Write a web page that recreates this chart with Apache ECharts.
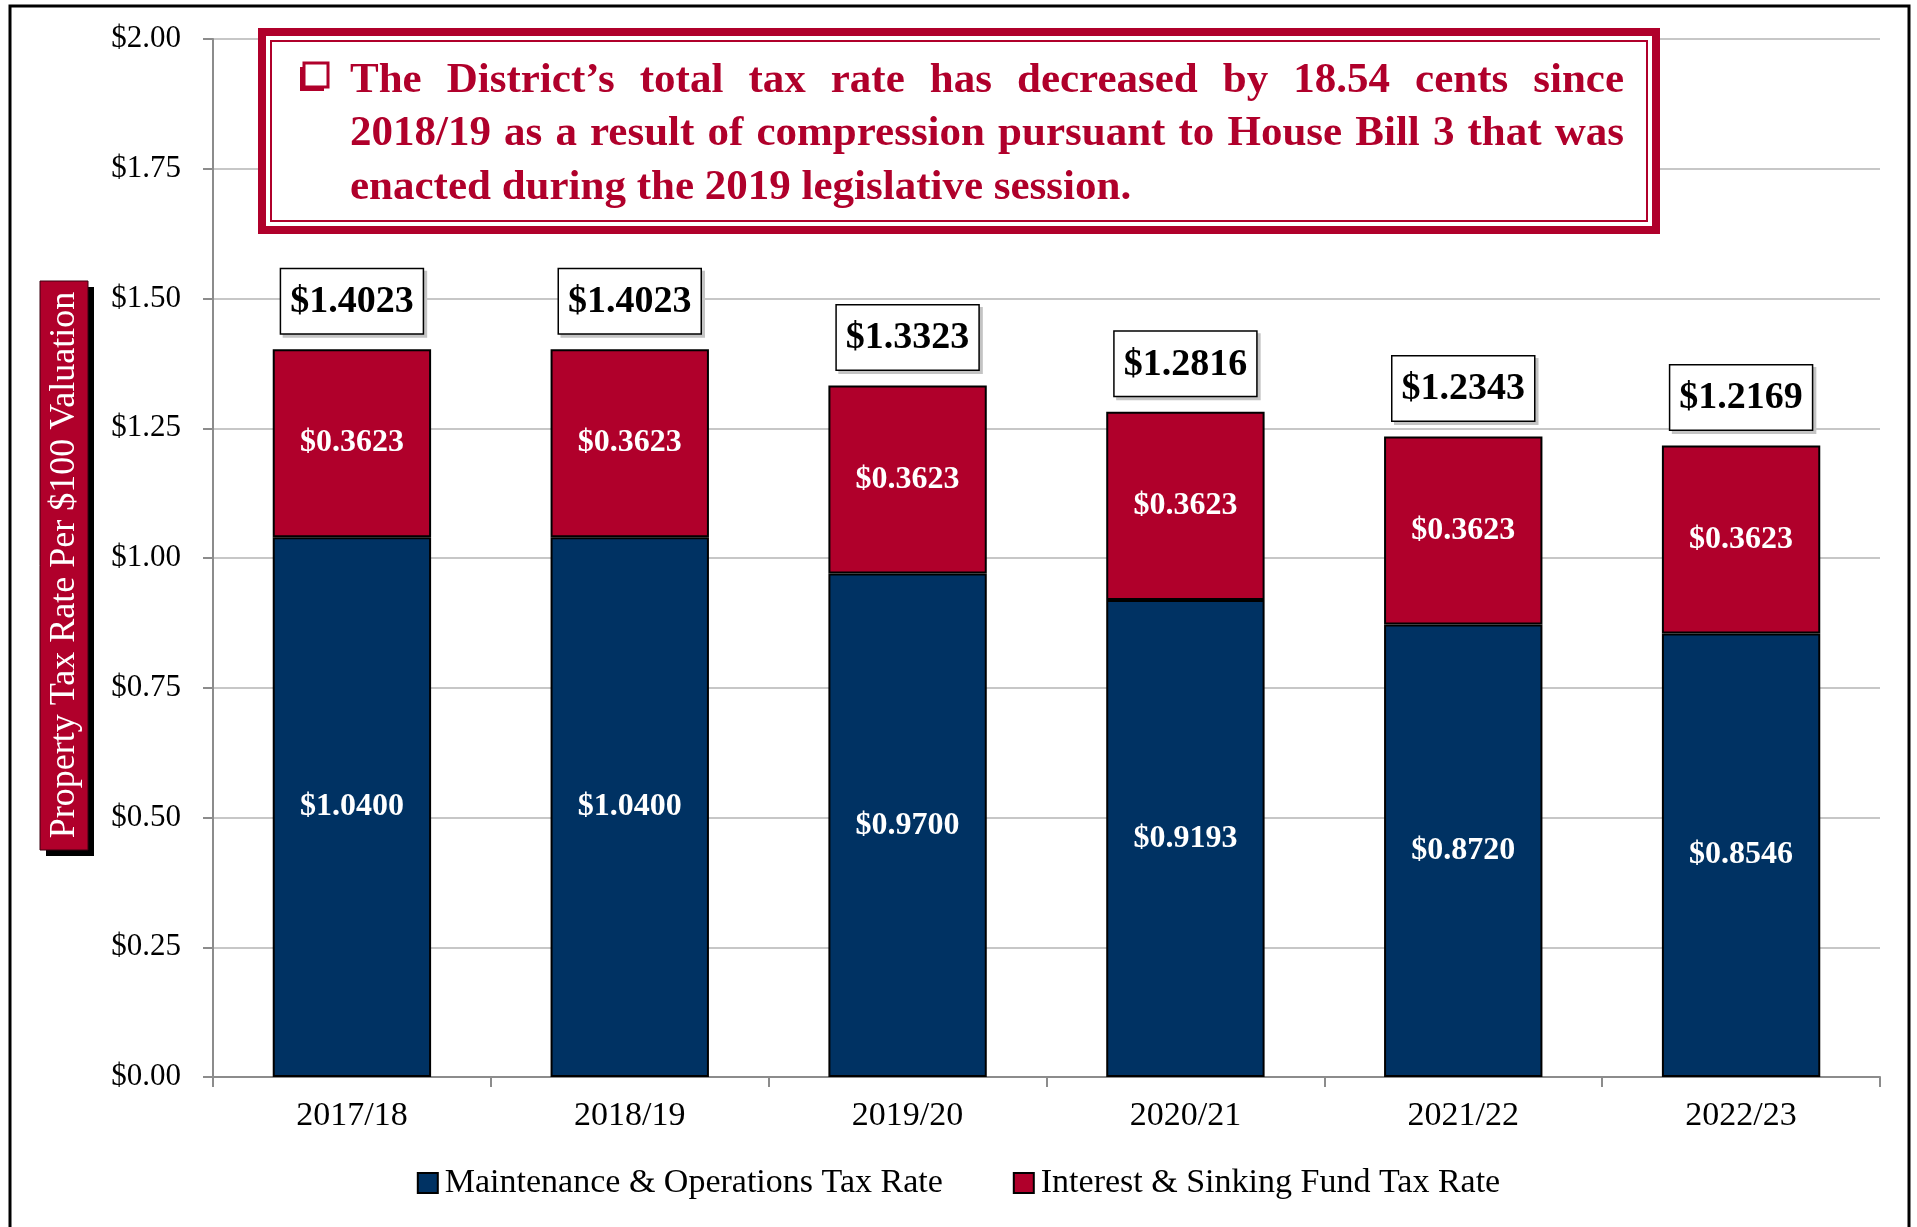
<!DOCTYPE html>
<html>
<head>
<meta charset="utf-8">
<script src="https://cdn.jsdelivr.net/npm/echarts@6/dist/echarts.min.js"></script>
<style>
  html, body { margin: 0; padding: 0; background: #fff; }
  #main { width: 1917px; height: 1227px; }
</style>
</head>
<body>
<div id="main"></div>
<script>
var years = ['2017/18', '2018/19', '2019/20', '2020/21', '2021/22', '2022/23'];
var moRate = [1.0400, 1.0400, 0.9700, 0.9193, 0.8720, 0.8546];
var isRate = [0.3623, 0.3623, 0.3623, 0.3623, 0.3623, 0.3623];
var totalRate = [1.4023, 1.4023, 1.3323, 1.2816, 1.2343, 1.2169];

var blue = '#003263';
var red = '#b0002b';
var serif = '"Liberation Serif", "DejaVu Serif", serif';

var noteLines = [
    'The District\u2019s total tax rate has decreased by 18.54 cents since',
    '2018/19 as a result of compression pursuant to House Bill 3 that was',
    'enacted during the 2019 legislative session.'
];

function money(v) {
    return '$' + v.toFixed(4);
}

// lay out the note words, justifying the first two lines
function noteText() {
    var font = 'bold 43px ' + serif;
    var ctx = document.createElement('canvas').getContext('2d');
    ctx.font = font;
    var left = 350, right = 1624;
    var ys = [81, 134, 188];
    var out = [];
    noteLines.forEach(function(line, i) {
        var words = line.split(' ');
        var widths = words.map(function(w) { return ctx.measureText(w).width; });
        var sum = widths.reduce(function(a, b) { return a + b; }, 0);
        var gap = ctx.measureText(' ').width;
        if (i < noteLines.length - 1) {
            gap = Math.max(4, (right - left - sum) / (words.length - 1));
        }
        var x = left;
        words.forEach(function(w, k) {
            out.push({
                type: 'text',
                x: x,
                y: ys[i],
                style: {
                    text: w,
                    font: font,
                    fill: red,
                    textVerticalAlign: 'middle'
                },
                z: 110
            });
            x += widths[k] + gap;
        });
    });
    return out;
}

var chart = echarts.init(document.getElementById('main'));

var graphics = [
    // outer frame
    {
        type: 'rect',
        shape: { x: 10, y: 6, width: 1899, height: 1240 },
        style: { fill: null, stroke: '#000', lineWidth: 3 },
        z: 1
    },
    // note box
    {
        type: 'rect',
        shape: { x: 262, y: 32, width: 1394, height: 198 },
        style: { fill: '#fff', stroke: red, lineWidth: 8 },
        z: 100
    },
    {
        type: 'rect',
        shape: { x: 271, y: 41, width: 1376, height: 180 },
        style: { fill: null, stroke: red, lineWidth: 2 },
        z: 101
    },
    // check box bullet
    {
        type: 'rect',
        shape: { x: 300, y: 67, width: 24, height: 24 },
        style: { fill: red },
        z: 102
    },
    {
        type: 'rect',
        shape: { x: 304, y: 63, width: 24, height: 24 },
        style: { fill: '#fff', stroke: red, lineWidth: 3 },
        z: 103
    },
    // y axis name box
    {
        type: 'rect',
        shape: { x: 46, y: 287, width: 48, height: 569 },
        style: { fill: '#000' },
        z: 100
    },
    {
        type: 'rect',
        shape: { x: 40, y: 281, width: 48, height: 569 },
        style: { fill: red, stroke: '#3a0010', lineWidth: 1 },
        z: 101
    },
    {
        type: 'text',
        x: 65,
        y: 565,
        rotation: Math.PI / 2,
        style: {
            text: 'Property Tax Rate Per $100 Valuation',
            font: '36px ' + serif,
            fill: '#fff',
            textAlign: 'center',
            textVerticalAlign: 'middle'
        },
        z: 102
    }
].concat(noteText());

var totalLabel = {
    show: true,
    position: 'top',
    distance: 16,
    fontFamily: serif,
    fontSize: 38,
    fontWeight: 'bold',
    color: '#000',
    opacity: 1,
    backgroundColor: '#ffffff',
    borderColor: '#000',
    borderWidth: 1.5,
    padding: [14, 9, 12, 9],
    formatter: function(p) { return money(p.value); }
};

var options = {
    animation: false,
    grid: {
        left: 213,
        right: 37,
        top: 39,
        bottom: 150
    },
    legend: {
        bottom: 22,
        left: 'center',
        icon: 'rect',
        itemWidth: 20,
        itemHeight: 20,
        itemGap: 70,
        data: ['Maintenance & Operations Tax Rate', 'Interest & Sinking Fund Tax Rate'],
        textStyle: {
            fontFamily: serif,
            fontSize: 34,
            color: '#000',
            padding: [0, 0, 0, 2]
        }
    },
    xAxis: {
        type: 'category',
        data: years,
        axisLine: { lineStyle: { color: '#8c8c8c', width: 2 } },
        axisTick: { show: true, length: 10, lineStyle: { color: '#8c8c8c', width: 2 } },
        axisLabel: {
            fontFamily: serif,
            fontSize: 34,
            color: '#000',
            margin: 22
        }
    },
    yAxis: {
        type: 'value',
        min: 0,
        max: 2,
        interval: 0.25,
        axisLine: { show: true, lineStyle: { color: '#8c8c8c', width: 2 } },
        axisTick: { show: true, length: 10, lineStyle: { color: '#8c8c8c', width: 2 } },
        splitLine: { lineStyle: { color: '#b4b4b4', width: 1.5 } },
        axisLabel: {
            fontFamily: serif,
            fontSize: 31,
            color: '#000',
            margin: 32,
            formatter: function(v) {
                return '$' + v.toFixed(2);
            }
        }
    },
    series: [{
        name: 'Maintenance & Operations Tax Rate',
        type: 'bar',
        stack: 'rate',
        barWidth: '57%',
        data: moRate,
        itemStyle: { color: blue, borderColor: '#000', borderWidth: 2 },
        label: {
            show: true,
            position: 'inside',
            fontFamily: serif,
            fontSize: 32,
            fontWeight: 'bold',
            color: '#fff',
            formatter: function(p) { return money(p.value); }
        }
    }, {
        name: 'Interest & Sinking Fund Tax Rate',
        type: 'bar',
        stack: 'rate',
        barWidth: '57%',
        data: isRate,
        itemStyle: { color: red, borderColor: '#000', borderWidth: 2 },
        label: {
            show: true,
            position: 'inside',
            fontFamily: serif,
            fontSize: 32,
            fontWeight: 'bold',
            color: '#fff',
            formatter: function(p) { return money(p.value); }
        }
    }, {
        // drop shadow behind the total boxes
        name: 'TotalShadow',
        type: 'scatter',
        data: totalRate,
        symbolSize: 0,
        silent: true,
        itemStyle: { opacity: 1 },
        z: 19,
        label: Object.assign({}, totalLabel, {
            color: 'rgba(0,0,0,0)',
            backgroundColor: '#c4c4c4',
            borderColor: '#c4c4c4',
            offset: [3, 3]
        })
    }, {
        name: 'Total',
        type: 'scatter',
        data: totalRate,
        symbolSize: 0,
        itemStyle: { opacity: 1 },
        z: 20,
        label: totalLabel
    }],
    graphic: graphics
};

chart.setOption(options);
</script>
</body>
</html>
